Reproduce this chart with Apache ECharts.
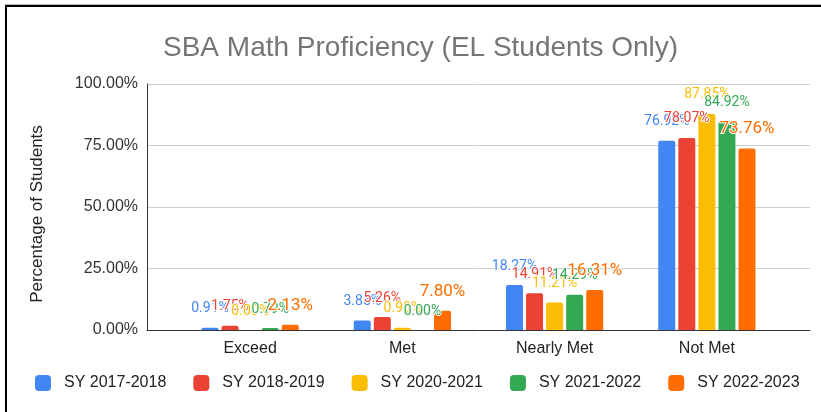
<!DOCTYPE html>
<html>
<head>
<meta charset="utf-8">
<script src="https://cdn.jsdelivr.net/npm/echarts@6/dist/echarts.min.js"></script>
<style>
  html, body { margin: 0; padding: 0; background: #fff; }
  #frame {
    position: absolute; left: 5px; top: 5px; width: 816px; height: 407px;
    border-top: 2px solid #000; border-left: 2px solid #000;
    box-shadow: 0 -1px 0 #bbb;
  }
  #chart { position: absolute; left: 0; top: 0; width: 821px; height: 412px; }
</style>
</head>
<body>
<div id="frame"></div>
<div id="chart"></div>
<script>
const categories = ["Exceed", "Met", "Nearly Met", "Not Met"];
const seriesNames = ["SY 2017-2018", "SY 2018-2019", "SY 2020-2021", "SY 2021-2022", "SY 2022-2023"];
const sy1718 = [0.91, 3.85, 18.27, 76.92];
const sy1819 = [1.75, 5.26, 14.91, 78.07];
const sy2021 = [0.00, 0.90, 11.21, 87.85];
const sy2122 = [0.79, 0.00, 14.29, 84.92];
const sy2223 = [2.13, 7.80, 16.31, 73.76];
const yTicks = [0, 25, 50, 75, 100];

const colors = ["#4285F4", "#EA4335", "#FBBC04", "#34A853", "#FF6D01"];
const values = [sy1718, sy1819, sy2021, sy2122, sy2223];
const axisFont = "Liberation Sans";

const chart = echarts.init(document.getElementById("chart"));

const series = values.map((data, i) => ({
  name: seriesNames[i],
  type: "bar",
  xAxisIndex: 1,
  yAxisIndex: 1,
  data: data,
  barWidth: 17,
  barGap: "18%",
  itemStyle: { color: colors[i], borderRadius: [2, 2, 0, 0] },
  label: {
    show: true,
    position: "top",
    distance: i === 4 ? 11 : 12,
    color: colors[i],
    fontFamily: "Roboto",
    fontSize: i === 4 ? 17 : 14,
    textBorderColor: "#fff",
    textBorderWidth: 2,
    formatter: (p) => p.value.toFixed(2) + "%",
  },
}));

chart.setOption({
  animation: false,
  color: colors,
  title: {
    text: "SBA Math Proficiency (EL Students Only)",
    left: 158,
    top: 29,
    textStyle: {
      color: "#757575",
      fontSize: 28,
      fontWeight: "normal",
      fontFamily: axisFont,
    },
  },
  legend: {
    data: seriesNames,
    left: 35,
    top: 375,
    padding: 0,
    itemWidth: 16,
    itemHeight: 16,
    itemGap: 27,
    icon: "roundRect",
    textStyle: {
      color: "#222",
      fontSize: 16,
      fontFamily: axisFont,
      padding: [0, 0, 0, 8],
    },
  },
  grid: [
    { left: 147, right: 11, top: 84, bottom: 82 },
    { left: 174, right: 38, top: 84, bottom: 82 },
  ],
  xAxis: [
    {
      gridIndex: 0,
      type: "category",
      data: categories,
      axisLine: { show: true, lineStyle: { color: "#333", width: 1 } },
      axisTick: { show: false },
      axisLabel: { show: false },
    },
    {
      gridIndex: 1,
      type: "category",
      data: categories,
      axisLine: { show: false },
      axisTick: { show: false },
      axisLabel: {
        color: "#222",
        fontSize: 16,
        fontFamily: axisFont,
        margin: 11,
      },
    },
  ],
  yAxis: [
    {
      gridIndex: 0,
      type: "value",
      min: yTicks[0],
      max: yTicks[yTicks.length - 1],
      interval: 25,
      name: "Percentage of Students",
      nameLocation: "middle",
      nameGap: 101,
      nameTextStyle: {
        color: "#222",
        fontSize: 17,
        fontFamily: axisFont,
        padding: [0, 14, 0, 0],
      },
      axisLine: { show: true, lineStyle: { color: "#333" } },
      axisTick: { show: false },
      axisLabel: {
        color: "#333",
        fontSize: 16,
        fontFamily: axisFont,
        margin: 9,
        formatter: (v) => v.toFixed(2) + "%",
      },
      splitLine: { lineStyle: { color: "#ccc" } },
    },
    {
      gridIndex: 1,
      type: "value",
      min: yTicks[0],
      max: yTicks[yTicks.length - 1],
      interval: 25,
      axisLine: { show: false },
      axisTick: { show: false },
      axisLabel: { show: false },
      splitLine: { show: false },
    },
  ],
  series: series,
});
</script>
</body>
</html>
